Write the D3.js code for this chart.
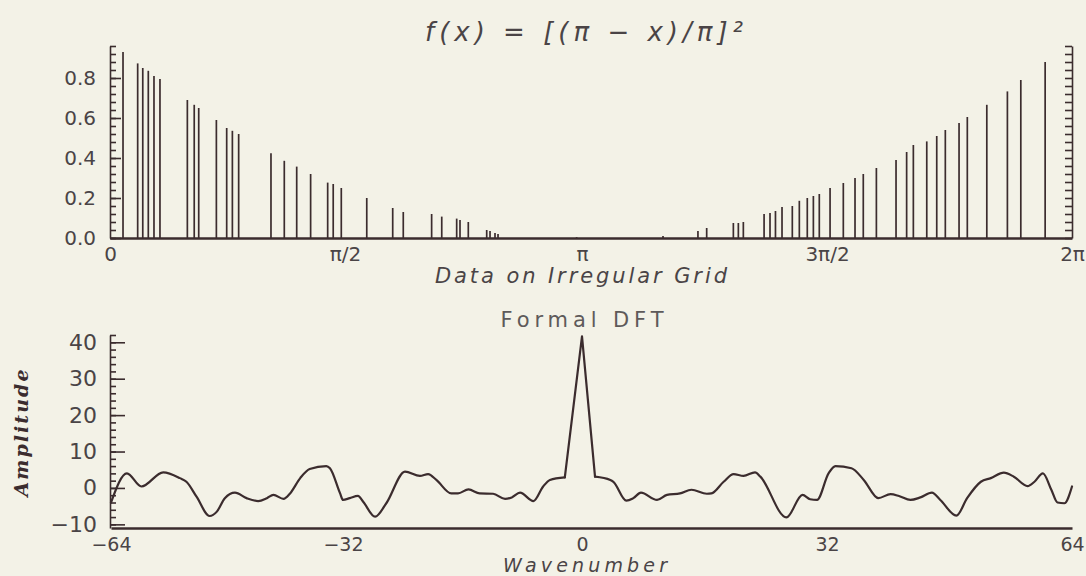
<!DOCTYPE html>
<html>
<head>
<meta charset="utf-8">
<script src="https://cdn.jsdelivr.net/npm/d3@7"></script>
<style>
  body { margin: 0; background: #f3f2e7; }
  svg { display: block; }
</style>
</head>
<body>
<div id="chart"></div>
<script>
const PI = Math.PI;

// Top panel: samples of f(x) on an irregular grid (x in radians)
const stemX = [0.087, 0.185, 0.219, 0.256, 0.294, 0.334, 0.517, 0.563, 0.593, 0.711, 0.780, 0.818, 0.860,
  1.076, 1.165, 1.248, 1.341, 1.455, 1.492, 1.546, 1.715, 1.887, 1.957, 2.145, 2.212, 2.311, 2.333, 2.388,
  2.510, 2.532, 2.565, 2.585, 3.106, 3.661, 3.885, 3.941, 4.112, 4.144, 4.176, 4.309, 4.347, 4.382, 4.424,
  4.490, 4.535, 4.586, 4.625, 4.663, 4.732, 4.817, 4.892, 4.945, 5.029, 5.155, 5.223, 5.266, 5.352, 5.416,
  5.471, 5.559, 5.612, 5.737, 5.869, 5.955, 6.111];
const stemVal = [0.93, 0.873, 0.85, 0.836, 0.81, 0.795, 0.69, 0.666, 0.65, 0.59, 0.55, 0.536, 0.52,
  0.424, 0.386, 0.357, 0.32, 0.277, 0.27, 0.25, 0.20, 0.15, 0.13, 0.12, 0.107, 0.097, 0.09, 0.08,
  0.04, 0.035, 0.025, 0.02, 0.004, 0.01, 0.035, 0.05, 0.075, 0.075, 0.08, 0.12, 0.125, 0.135, 0.155,
  0.16, 0.186, 0.20, 0.21, 0.22, 0.25, 0.275, 0.30, 0.32, 0.35, 0.39, 0.43, 0.465, 0.483, 0.51,
  0.54, 0.575, 0.605, 0.666, 0.733, 0.79, 0.88];
const topXTicks = [0, PI / 2, PI, 3 * PI / 2, 2 * PI];
const topXLabels = ["0", "π/2", "π", "3π/2", "2π"];
const topYTicks = [0, 0.2, 0.4, 0.6, 0.8];

// Bottom panel: formal DFT amplitude vs wavenumber
const waveK = [-64, -61.8, -59.8, -56.8, -54.5, -53.6, -52.2, -50.4, -49.4, -48.3, -46.9, -45.3, -43.7,
  -42.5, -41.6, -40.2, -39.3, -37.9, -36.6, -34.3, -33.8, -32.4, -32.0, -31.1, -30.0, -29.3, -27.7,
  -26.2, -23.7, -21.7, -20.6, -19.5, -17.5, -16.6, -15.2, -13.7, -11.9, -10.3, -9.4, -8.3, -6.5, -5.2,
  -4.3, -2.3, 0, 1.7, 3.7, 4.1, 5.8, 6.7, 7.7, 9.8, 11.1, 12.8, 14.3, 16.3, 16.9, 18.5, 19.8, 21.1,
  22.6, 23.3, 26.7, 28.8, 29.8, 30.7, 32.2, 33.1, 35.2, 36.8, 38.7, 40.3, 41.4, 42.9, 44.2, 45.7, 46.8,
  48.9, 50.3, 52.1, 53.4, 55.1, 56.4, 58.2, 59.1, 60.2, 61.3, 62.1, 63.0, 64];
const waveAmp = [-4, 4.0, 0.4, 4.3, 2.7, 1.7, -2.4, -7.7, -6.5, -2.8, -1.3, -2.8, -3.6,
  -2.8, -1.9, -3.0, -1.5, 2.7, 5.2, 6.0, 5.4, -1.5, -3.3, -2.8, -2.2, -3.8, -7.9,
  -4.2, 4.5, 3.3, 3.8, 2.2, -1.5, -1.5, -0.4, -1.5, -1.6, -3.0, -2.6, -1.3, -3.6, 0.4,
  2.2, 2.9, 41.6, 3.1, 2.2, 1.7, -3.5, -2.8, -1.3, -3.3, -1.9, -1.5, -0.5, -1.6, -1.5, 1.7, 3.8, 3.3,
  4.3, 3.1, -8.1, -1.9, -3.1, -3.3, 4.0, 6.0, 5.4, 2.2, -2.8, -1.7, -2.2, -3.3, -2.6, -1.3, -3.3,
  -7.6, -2.8, 1.7, 2.7, 4.2, 3.1, 0.5, 1.7, 4.0, -0.5, -4.0, -4.2, 0.4];
const botXTicks = [-64, -32, 0, 32, 64];
const botYTicks = [-10, 0, 10, 20, 30, 40];

const W = 1086, H = 576;
const ink = "#3b2c2e";
const textInk = "#4a4446";

const svg = d3.select("#chart")
  .append("svg")
  .attr("width", W)
  .attr("height", H);

svg.append("rect").attr("width", W).attr("height", H).attr("fill", "#f3f2e7");

function styleAxis(g, size) {
  g.selectAll("path, line").attr("stroke", ink).attr("stroke-width", 1.6);
  g.selectAll("text")
    .attr("fill", textInk)
    .style("font-family", "DejaVu Sans, sans-serif")
    .style("font-size", size + "px");
}

// ---------- top panel ----------
const x1 = d3.scaleLinear().domain(topXTicks).range([110, 345, 582, 827, 1072]);
const y1 = d3.scaleLinear().domain([0, 0.96]).range([238, 46]);

// left axis, minor then major ticks
svg.append("g")
  .attr("transform", "translate(110,0)")
  .call(d3.axisLeft(y1).tickValues(d3.range(0, 0.961, 0.04)).tickSize(-6).tickSizeOuter(0).tickFormat(""))
  .call(g => styleAxis(g, 20));
svg.append("g")
  .attr("transform", "translate(110,0)")
  .call(d3.axisLeft(y1).tickValues(topYTicks).tickSize(-11).tickSizeOuter(0).tickPadding(14).tickFormat(d3.format(".1f")))
  .call(g => g.select(".domain").remove())
  .call(g => styleAxis(g, 20));

// right axis
svg.append("g")
  .attr("transform", "translate(1072,0)")
  .call(d3.axisRight(y1).tickValues(d3.range(0, 0.961, 0.04)).tickSize(-7).tickSizeOuter(0).tickFormat(""))
  .call(g => styleAxis(g, 20));

// bottom axis of top panel
svg.append("g")
  .attr("transform", "translate(0,238)")
  .call(d3.axisBottom(x1).tickValues(topXTicks).tickFormat((d, i) => topXLabels[i]).tickSize(0).tickSizeOuter(0).tickPadding(9))
  .call(g => styleAxis(g, 20))
  .call(g => g.select(".domain").attr("stroke-width", 2.6));

// stems
svg.append("g")
  .selectAll("line")
  .data(stemX.map((x, i) => ({ x: x, v: stemVal[i] })))
  .join("line")
  .attr("x1", d => x1(d.x))
  .attr("x2", d => x1(d.x))
  .attr("y1", y1(0))
  .attr("y2", d => y1(d.v))
  .attr("stroke", ink)
  .attr("stroke-width", 1.7);

svg.append("text")
  .attr("x", 584).attr("y", 32).attr("dy", "0.35em")
  .attr("text-anchor", "middle")
  .attr("textLength", 318).attr("lengthAdjust", "spacing")
  .attr("fill", textInk)
  .style("font-family", "DejaVu Sans, sans-serif")
  .style("font-style", "italic")
  .style("font-size", "26px")
  .text("f(x) = [(π − x)/π]²");

svg.append("text")
  .attr("x", 581).attr("y", 276).attr("dy", "0.35em")
  .attr("text-anchor", "middle")
  .attr("textLength", 292).attr("lengthAdjust", "spacing")
  .attr("fill", textInk)
  .style("font-family", "DejaVu Sans, sans-serif")
  .style("font-style", "italic")
  .style("font-size", "21px")
  .text("Data on Irregular Grid");

// ---------- bottom panel ----------
const x2 = d3.scaleLinear().domain(botXTicks).range([111, 343, 582, 827, 1072]);
const y2 = d3.scaleLinear().domain([-11, 42]).range([528, 335]);

svg.append("g")
  .attr("transform", "translate(110,0)")
  .call(d3.axisLeft(y2).tickValues(d3.range(-10, 42.1, 2)).tickSize(-6).tickSizeOuter(0).tickFormat(""))
  .call(g => styleAxis(g, 22));
svg.append("g")
  .attr("transform", "translate(110,0)")
  .call(d3.axisLeft(y2).tickValues(botYTicks).tickSize(-15).tickSizeOuter(0).tickPadding(13))
  .call(g => g.select(".domain").remove())
  .call(g => styleAxis(g, 22));

svg.append("g")
  .attr("transform", "translate(0,528)")
  .call(d3.axisBottom(x2).tickValues(botXTicks).tickSize(0).tickSizeOuter(0).tickPadding(10))
  .call(g => styleAxis(g, 19))
  .call(g => g.select(".domain").attr("stroke-width", 2.6));

// smooth wiggles on both sides, straight flanks for the sharp central peak
const wave = waveK.map((k, i) => ({ k: k, a: waveAmp[i] }));
const iPeak = d3.maxIndex(waveAmp);
const smooth = d3.line().x(d => x2(d.k)).y(d => y2(d.a)).curve(d3.curveMonotoneX);
const straight = d3.line().x(d => x2(d.k)).y(d => y2(d.a));

const waveG = svg.append("g")
  .attr("fill", "none")
  .attr("stroke", ink)
  .attr("stroke-width", 2.2)
  .attr("stroke-linejoin", "round")
  .attr("stroke-linecap", "round");
waveG.append("path").attr("d", smooth(wave.slice(0, iPeak)));
waveG.append("path").attr("d", straight(wave.slice(iPeak - 1, iPeak + 2)));
waveG.append("path").attr("d", smooth(wave.slice(iPeak + 1)));

svg.append("text")
  .attr("x", 582).attr("y", 320).attr("dy", "0.35em")
  .attr("text-anchor", "middle")
  .attr("textLength", 163).attr("lengthAdjust", "spacing")
  .attr("fill", "#5e5a5a")
  .style("font-family", "DejaVu Sans, sans-serif")
  .style("font-size", "21px")
  .text("Formal DFT");

svg.append("text")
  .attr("x", 585).attr("y", 565).attr("dy", "0.35em")
  .attr("text-anchor", "middle")
  .attr("textLength", 164).attr("lengthAdjust", "spacing")
  .attr("fill", textInk)
  .style("font-family", "DejaVu Sans, sans-serif")
  .style("font-style", "italic")
  .style("font-size", "19px")
  .text("Wavenumber");

svg.append("text")
  .attr("transform", "translate(21,433) rotate(-90)")
  .attr("dy", "0.35em")
  .attr("text-anchor", "middle")
  .attr("textLength", 127).attr("lengthAdjust", "spacing")
  .attr("fill", ink)
  .style("font-family", "DejaVu Serif, serif")
  .style("font-style", "italic")
  .style("font-weight", "bold")
  .style("font-size", "19px")
  .text("Amplitude");
</script>
</body>
</html>
